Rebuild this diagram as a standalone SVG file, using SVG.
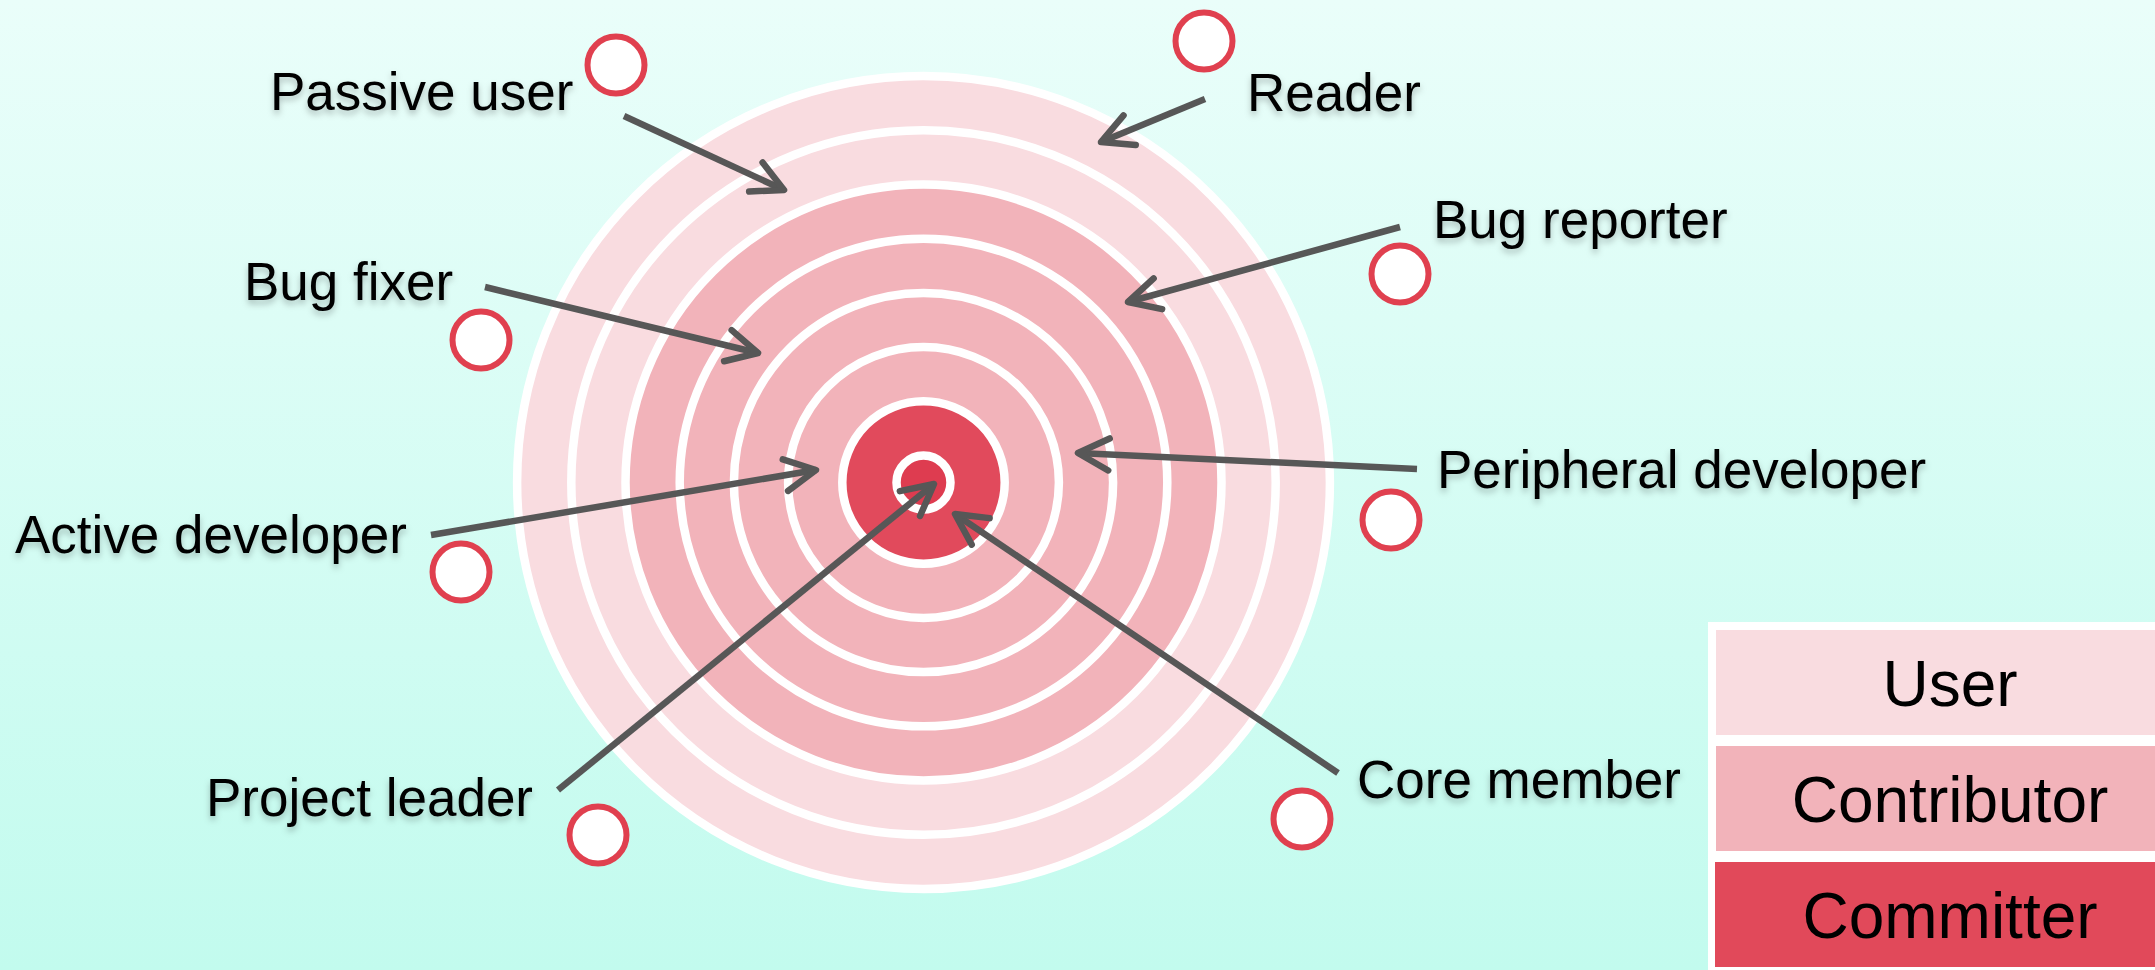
<svg xmlns="http://www.w3.org/2000/svg" width="2155" height="970" viewBox="0 0 2155 970">
  <style>
    .lbl { font-family: "Liberation Sans", Arial, sans-serif; font-size: 53px; fill: #000; filter: url(#shadow); }
    .leg { font-family: "Liberation Sans", Arial, sans-serif; font-size: 64px; fill: #000; text-anchor: middle; }
    .dot { fill: #fff; stroke: #E0404F; stroke-width: 6; }
    .ring { stroke: #fff; stroke-width: 8.5; }
    .user { fill: #F9DCE0; }
    .contrib { fill: #F2B3BA; }
    .commit { fill: #E14A5C; }
    .arrow { stroke: #575757; stroke-width: 6.5; fill: none; marker-end: url(#head); }
  </style>
  <defs>
    <linearGradient id="bg" x1="0" y1="0" x2="0" y2="1">
      <stop offset="0" stop-color="#EAFEFA"/>
      <stop offset="1" stop-color="#C2FBEE"/>
    </linearGradient>
    <filter id="shadow" x="-10%" y="-30%" width="120%" height="170%">
      <feDropShadow dx="0" dy="4" stdDeviation="3" flood-color="#000" flood-opacity="0.25"/>
    </filter>
    <marker id="head" markerUnits="userSpaceOnUse" viewBox="-40 -25 50 50" refX="0" refY="0" markerWidth="50" markerHeight="50" orient="auto" overflow="visible">
      <path d="M-31,-16 L0,0 L-31,16" fill="none" stroke="#575757" stroke-width="6.5" stroke-linecap="round" stroke-linejoin="round"/>
    </marker>
  </defs>

  <rect x="0" y="0" width="2155" height="970" fill="url(#bg)"/>

  <g id="target">
    <circle class="ring user" cx="923.5" cy="482.5" r="406.4"/>
    <circle class="ring user" cx="923.5" cy="482.5" r="352.2"/>
    <circle class="ring contrib" cx="923.5" cy="482.5" r="298"/>
    <circle class="ring contrib" cx="923.5" cy="482.5" r="243.8"/>
    <circle class="ring contrib" cx="923.5" cy="482.5" r="189.6"/>
    <circle class="ring contrib" cx="923.5" cy="482.5" r="135.4"/>
    <circle class="ring commit" cx="923.5" cy="482.5" r="81.2"/>
    <circle class="ring" cx="923.5" cy="482.5" r="27" fill="#DE3C50"/>
  </g>

  <g id="connectors">
    <line class="arrow" x1="624" y1="116" x2="784" y2="190"/>
    <line class="arrow" x1="1205" y1="99" x2="1101" y2="142"/>
    <line class="arrow" x1="1400" y1="227" x2="1128" y2="302"/>
    <line class="arrow" x1="485" y1="287" x2="758" y2="353"/>
    <line class="arrow" x1="1417" y1="469" x2="1078" y2="453"/>
    <line class="arrow" x1="431" y1="535" x2="816" y2="470"/>
    <line class="arrow" x1="558" y1="790" x2="934" y2="484"/>
    <line class="arrow" x1="1338" y1="773" x2="955" y2="514"/>
  </g>

  <g id="passive-user">
    <circle class="dot" cx="616" cy="65" r="28.5"/>
    <text class="lbl" x="270" y="110">Passive user</text>
  </g>
  <g id="reader">
    <circle class="dot" cx="1204" cy="41" r="28.5"/>
    <text class="lbl" x="1247" y="111">Reader</text>
  </g>
  <g id="bug-reporter">
    <circle class="dot" cx="1400" cy="274" r="28.5"/>
    <text class="lbl" x="1433" y="238">Bug reporter</text>
  </g>
  <g id="bug-fixer">
    <circle class="dot" cx="481" cy="340" r="28.5"/>
    <text class="lbl" x="244" y="300">Bug fixer</text>
  </g>
  <g id="peripheral-developer">
    <circle class="dot" cx="1391" cy="520" r="28.5"/>
    <text class="lbl" x="1437" y="488">Peripheral developer</text>
  </g>
  <g id="active-developer">
    <circle class="dot" cx="461" cy="572" r="28.5"/>
    <text class="lbl" x="15" y="553">Active developer</text>
  </g>
  <g id="project-leader">
    <circle class="dot" cx="598" cy="835" r="28.5"/>
    <text class="lbl" x="206" y="816">Project leader</text>
  </g>
  <g id="core-member">
    <circle class="dot" cx="1302" cy="819" r="28.5"/>
    <text class="lbl" x="1357" y="798">Core member</text>
  </g>

  <g id="legend">
    <rect x="1708" y="622" width="447" height="348" fill="#fff"/>
    <g id="legend-user">
      <rect class="user" x="1716" y="630" width="439" height="105"/>
      <text class="leg" x="1950" y="706">User</text>
    </g>
    <g id="legend-contributor">
      <rect class="contrib" x="1716" y="746" width="439" height="105"/>
      <text class="leg" x="1950" y="822">Contributor</text>
    </g>
    <g id="legend-committer">
      <rect fill="#E1495A" x="1715" y="862" width="440" height="105"/>
      <text class="leg" x="1950" y="938">Committer</text>
    </g>
  </g>
</svg>
